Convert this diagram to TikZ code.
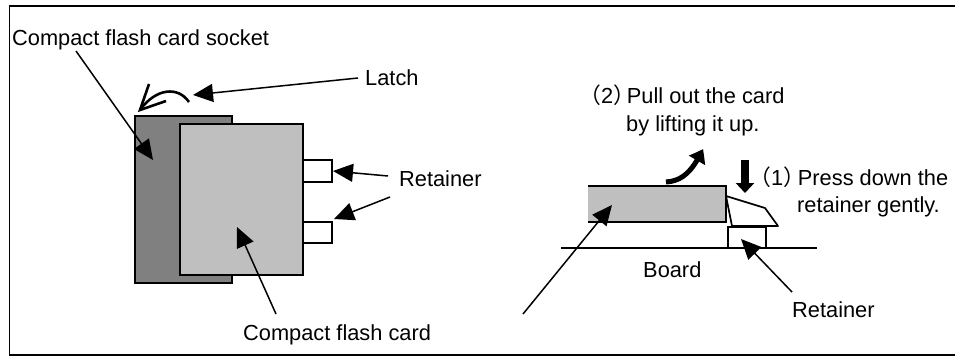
\documentclass[tikz,border=0pt]{standalone}
\usepackage{fontspec}
\setmainfont{Liberation Sans}
\newfontfamily\cjkp{Noto Sans CJK JP}
\usetikzlibrary{arrows.meta,bending}
\tikzset{
  lbl/.style={inner sep=0pt,anchor=base west,font=\fontsize{21.8pt}{26pt}\selectfont},
  part/.style={draw=black,line width=2pt,inner sep=0pt,outer sep=0pt,anchor=north west},
  ptr/.style={draw=black,line width=1.5pt,-{Triangle[length=20pt,width=18pt]}},
}
\begin{document}
\begin{tikzpicture}[x=1pt,y=-1pt]
\useasboundingbox (0,0) rectangle (955,356);
\draw[line width=1.3pt] (955,6) -- (9.5,6) -- (9.5,355) -- (955,355);
% left assembly
\node[part,fill=black!50,minimum width=97pt,minimum height=167pt] (socket) at (135,116) {};
\node[part,fill=black!25,minimum width=123.5pt,minimum height=151.5pt] (card) at (179.5,123.5) {};
\node[part,fill=white,minimum width=29pt,minimum height=22pt] (retA) at (303,160) {};
\node[part,fill=white,minimum width=29pt,minimum height=21pt] (retB) at (303,221.7) {};
% latch motion arrow
\coordinate (la) at (189,102);
\coordinate (lb) at (140,110);
\draw[line width=2.6pt] (la) .. controls (178,86) and (156,88) .. (lb);
\draw[line width=2.6pt] (149,84) -- (lb) -- (166,101);
% labels
\node[lbl] (tsock) at (12,45) {Compact flash card socket};
\node[lbl] (tlatch) at (365,85) {Latch};
\node[lbl] (tret) at (399,186) {Retainer};
\node[lbl] (tcard) at (243,340) {Compact flash card};
\node[lbl] (tboard) at (643,277) {Board};
\node[lbl] (tret2) at (792,317) {Retainer};
\node[lbl] (t2a) at (579,103) {{\cjkp （}2{\cjkp ）}\hspace{-8pt}Pull out the card};
\node[lbl] (t2b) at (626,131) {by lifting it up.};
\node[lbl] (t1a) at (749,185) {{\cjkp （}1{\cjkp ）}\hspace{-7pt}Press down the};
\node[lbl] (t1b) at (797,212) {retainer gently.};
% right assembly
\coordinate (bl) at (561,248);
\coordinate (br) at (817,248);
\draw[line width=1.7pt] (bl) -- (br);
\fill[black!25] (588,186) rectangle (726,222);
\draw[line width=2pt] (588,186) -- (726,186) -- (726,222) -- (588,222);
\draw[line width=1.7pt,line join=round] (726,196) -- (765,208) -- (778,226) -- (732,226) -- (726,196);
\draw[line width=2pt] (727.5,248) -- (727.5,227) -- (766,227) -- (766,248);
% thick arrows
\coordinate (upS) at (666,182);
\coordinate (upT) at (703,149);
\draw[line width=5pt,-{Triangle[length=13pt,width=18pt,bend]}] (upS) .. controls (682,181) and (692,172) .. (upT);
\coordinate (dnS) at (745,160);
\coordinate (dnT) at (745,193);
\draw[line width=8pt,-{Triangle[length=10pt,width=18pt]}] (dnS) -- (dnT);
% pointers
\coordinate (p1) at (76,51); \coordinate (q1) at (153,160);
\coordinate (p2) at (358,78); \coordinate (q2) at (193,95);
\coordinate (p3) at (388,176);
\coordinate (p4) at (390,197);
\coordinate (p5) at (276,314); \coordinate (q5) at (237,227);
\coordinate (p6) at (523,314); \coordinate (q6) at (612,205);
\coordinate (p7) at (792,292); \coordinate (q7) at (741,239);
\draw[ptr] (p1) -- (q1);
\draw[ptr] (p2) -- (q2);
\draw[ptr] (p3) -- ([xshift=1pt]retA.east);
\draw[ptr] (p4) -- ([shift={(2,-2.7)}]retB.north east);
\draw[ptr] (p5) -- (q5);
\draw[ptr] (p6) -- (q6);
\draw[ptr] (p7) -- (q7);
\end{tikzpicture}
\end{document}
